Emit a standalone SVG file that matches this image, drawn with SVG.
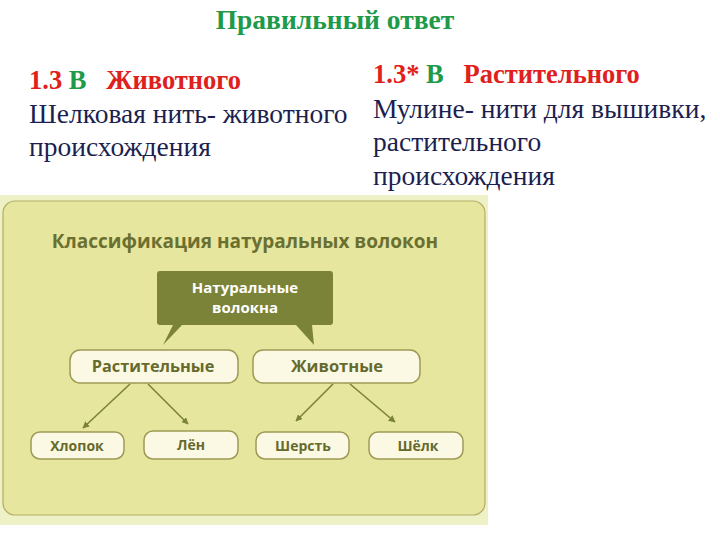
<svg xmlns="http://www.w3.org/2000/svg" width="720" height="540" viewBox="0 0 720 540">
<defs>
<style>
.serif{font-family:"Liberation Serif","Times New Roman",serif}
.hdr{font-weight:bold;font-size:26.5px}
.body{font-size:27.5px;fill:#1c1f4f}
.red{fill:#e0201c}
.green{fill:#1e9a4a}
.sans{font-family:"Open Sans","DejaVu Sans",sans-serif;font-weight:bold}
.node rect{fill:#fbf9e4;stroke:#9e9a55;stroke-width:1.5}
.node text{fill:#666a2c;text-anchor:middle}
.conn line{stroke:#7b8338;stroke-width:1.6;marker-end:url(#ah)}
</style>
<marker id="ah" viewBox="0 0 10 10" refX="9" refY="5" markerWidth="7" markerHeight="7" orient="auto" markerUnits="userSpaceOnUse">
<path d="M0,0 L10,5 L0,10 z" fill="#7b8338"/>
</marker>
</defs>
<rect width="720" height="540" fill="#ffffff"/>
<g id="title"><text class="serif green" font-weight="bold" font-size="27.5" x="335" y="29" text-anchor="middle">Правильный ответ</text></g>
<g id="left-text" class="serif">
<text class="hdr" x="29" y="89"><tspan class="red">1.3 </tspan><tspan class="green">В</tspan><tspan class="red" xml:space="preserve">   Животного</tspan></text>
<text class="body" x="29" y="123">Шелковая нить- животного</text>
<text class="body" x="29" y="156">происхождения</text>
</g>
<g id="right-text" class="serif">
<text class="hdr" x="373" y="83"><tspan class="red">1.3* </tspan><tspan class="green">В</tspan><tspan class="red" xml:space="preserve">   Растительного</tspan></text>
<text class="body" x="373" y="118">Мулине- нити для вышивки,</text>
<text class="body" x="373" y="151">растительного</text>
<text class="body" x="373" y="185">происхождения</text>
</g>
<g id="panel">
<rect x="0" y="195" width="488" height="330" fill="#eef0c6"/>
<rect x="3" y="201" width="482" height="314" rx="12" fill="#e6e69e" stroke="#b3ad66" stroke-width="1.2"/>
<text class="sans" x="245" y="248" text-anchor="middle" font-size="19" fill="#6b7030">Классификация натуральных волокон</text>
</g>
<g id="root" class="sans">
<path d="M160,271 H330 Q333,271 333,274 V322 Q333,325 330,325 H312 L314,345 L296,325 H182 L163,345 L173,325 H160 Q157,325 157,322 V274 Q157,271 160,271 Z" fill="#7b8338"/>
<text x="245" y="293" text-anchor="middle" font-size="15" fill="#ffffff">Натуральные</text>
<text x="245" y="313" text-anchor="middle" font-size="15" fill="#ffffff">волокна</text>
</g>
<g id="plant" class="node sans"><rect x="70" y="350" width="168" height="33" rx="10"/><text x="153" y="372" font-size="16.3">Растительные</text></g>
<g id="animal" class="node sans"><rect x="253" y="350" width="167" height="33" rx="10"/><text x="337" y="372" font-size="16.5">Животные</text></g>
<g id="cotton" class="node sans"><rect x="31" y="432" width="93" height="27" rx="9"/><text x="77" y="451" font-size="14">Хлопок</text></g>
<g id="flax" class="node sans"><rect x="144" y="431" width="94" height="28" rx="9"/><text x="191" y="450" font-size="14">Лён</text></g>
<g id="wool" class="node sans"><rect x="256" y="432" width="93" height="27" rx="9"/><text x="303" y="451" font-size="14">Шерсть</text></g>
<g id="silk" class="node sans"><rect x="369" y="432" width="94" height="27" rx="9"/><text x="418" y="451" font-size="14">Шёлк</text></g>
<g id="connectors" class="conn">
<line x1="130" y1="384" x2="83" y2="428"/>
<line x1="148" y1="384" x2="188" y2="424"/>
<line x1="333" y1="384" x2="296" y2="421"/>
<line x1="350" y1="384" x2="395" y2="422"/>
</g>
</svg>
